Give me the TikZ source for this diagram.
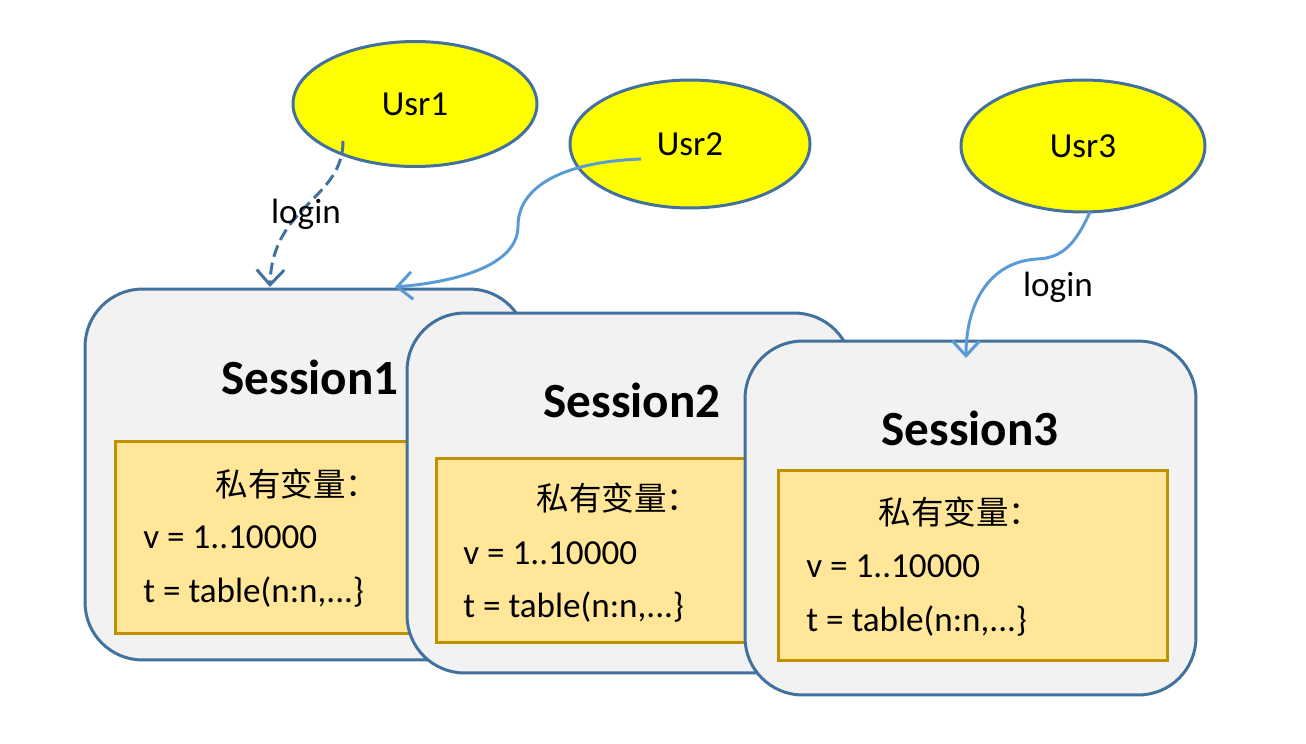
\documentclass[tikz,border=0pt]{standalone}
\usepackage{fontspec}
\setmainfont{Carlito}
\newfontfamily\cjk{Noto Sans CJK SC}
\usepackage{xcolor}
\usetikzlibrary{arrows.meta,calc,positioning,shapes.geometric}
\definecolor{usrline}{HTML}{41719C}
\definecolor{usrfill}{HTML}{FFFF00}
\definecolor{linkblue}{HTML}{5B9BD5}
\definecolor{sessfill}{HTML}{F2F2F2}
\definecolor{varfill}{HTML}{FFE699}
\definecolor{varline}{HTML}{BF9000}
\tikzset{
  usr/.style={ellipse, draw=usrline, fill=usrfill, line width=1.7pt, inner sep=0pt,
    font=\fontsize{20}{24}\selectfont},
  sess/.style={rectangle, rounded corners=1.15cm, draw=usrline, fill=sessfill, line width=1.7pt},
  sesstitle/.style={inner sep=0pt, font=\fontsize{28}{32}\selectfont\bfseries},
  varbox/.style={rectangle, draw=varline, fill=varfill, line width=1.7pt, minimum width=7.8cm},
  varhead/.style={inner sep=0pt, font=\fontsize{18.5}{22}\selectfont\cjk},
  vartext/.style={anchor=west, inner sep=0pt, font=\fontsize{20}{24}\selectfont},
  loginlabel/.style={inner sep=0pt, font=\fontsize{20}{24}\selectfont},
  link/.style={draw=linkblue, line width=1.7pt, -{Straight Barb[length=0.3cm,width=0.55cm]}},
}

\begin{document}
\begin{tikzpicture}[x=0.02cm,y=-0.02cm]
	\useasboundingbox (0,0) rectangle (1306,744);

	% session 1
	\node[sess, minimum width=8.84cm, minimum height=7.42cm] (s1) at (306,474.5) {};
	\node[sesstitle] (s1title) at (310,377) {Session1};
	\node[varbox, minimum height=3.86cm] (s1vars) at (310,537.5) {};
	\node[varhead] (s1head) at (297,484) {私有变量：};
	\node[vartext] (s1v) at (143,537) {v = 1..10000};
	\node[vartext] (s1t) at (143,592) {t = table(n:n,...\}};

	% session 2
	\node[sess, minimum width=8.9cm, minimum height=7.2cm] (s2) at (629.5,493) {};
	\node[sesstitle] (s2title) at (632,400) {Session2};
	\node[varbox, minimum height=3.7cm] (s2vars) at (631,550.5) {};
	\node[varhead] (s2head) at (618,498) {私有变量：};
	\node[vartext] (s2v) at (463,553) {v = 1..10000};
	\node[vartext] (s2t) at (463,607) {t = table(n:n,...\}};

	% session 3
	\node[sess, minimum width=9.02cm, minimum height=7.08cm] (s3) at (970.5,518) {};
	\node[sesstitle] (s3title) at (970,428) {Session3};
	\node[varbox, minimum height=3.82cm] (s3vars) at (973,565.5) {};
	\node[varhead] (s3head) at (960,512) {私有变量：};
	\node[vartext] (s3v) at (806,566) {v = 1..10000};
	\node[vartext] (s3t) at (806,621) {t = table(n:n,...\}};

	% users
	\node[usr, minimum width=4.88cm, minimum height=2.5cm] (usr1) at (415,104) {Usr1};
	\node[usr, minimum width=4.8cm, minimum height=2.56cm] (usr2) at (690,144) {Usr2};
	\node[usr, minimum width=4.88cm, minimum height=2.64cm] (usr3) at (1083,146) {Usr3};

	% login links
	\coordinate (u1out) at (343,141);
	\coordinate (s1in) at (270,287);
	\coordinate (u2out) at (641,159);
	\coordinate (s1side) at (395,287);
	\coordinate (u3out) at (1090,212);
	\coordinate (s3in) at (966,358);
	\draw[link, draw=usrline, dash pattern=on 0.24cm off 0.12cm] (u1out) .. controls (343,200) and (272,205) .. (s1in);
	\draw[link] (u2out) .. controls (560,162) and (518,188) .. (518,226)
		.. controls (518,266) and (455,282) .. (s1side);
	\draw[link] (u3out) .. controls (1075,245) and (1062,258) .. (1037,259)
		.. controls (988,262) and (966,305) .. (s3in);
	\node[loginlabel] (login1) at (306,214) {login};
	\node[loginlabel] (login3) at (1058,287) {login};
\end{tikzpicture}
\end{document}
